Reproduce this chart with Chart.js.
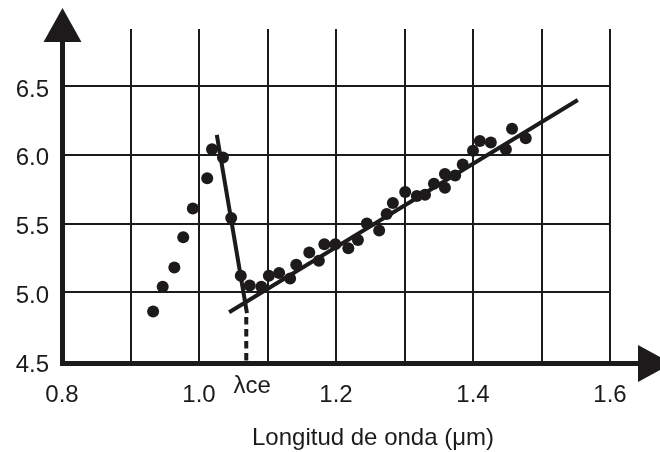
<!DOCTYPE html>
<html>
<head>
<meta charset="utf-8">
<script src="https://cdn.jsdelivr.net/npm/chart.js@4.4.0/dist/chart.umd.min.js"></script>
<style>
  html, body { margin: 0; padding: 0; background: #fff; }
  #wrap { width: 660px; height: 452px; }
</style>
</head>
<body>
<div id="wrap"><canvas id="chart"></canvas></div>
<script>
const wavelength = [0.933, 0.947, 0.964, 0.977, 0.991, 1.012, 1.019, 1.035, 1.047, 1.061,
  1.074, 1.091, 1.102, 1.117, 1.133, 1.142, 1.161, 1.175, 1.183, 1.199,
  1.218, 1.232, 1.245, 1.263, 1.274, 1.283, 1.301, 1.318, 1.330, 1.343,
  1.359, 1.359, 1.374, 1.385, 1.400, 1.410, 1.426, 1.448, 1.457, 1.477];
const signal = [4.86, 5.04, 5.18, 5.40, 5.61, 5.83, 6.04, 5.98, 5.54, 5.12,
  5.05, 5.04, 5.12, 5.14, 5.10, 5.20, 5.29, 5.23, 5.35, 5.35,
  5.32, 5.38, 5.50, 5.45, 5.57, 5.65, 5.73, 5.70, 5.71, 5.79,
  5.86, 5.76, 5.85, 5.93, 6.03, 6.10, 6.09, 6.04, 6.19, 6.12];

// the two hand-drawn straight lines and the cut-off marker
const steepX = [1.026, 1.070];
const steepY = [6.145, 4.848];
const fitX = [1.044, 1.553];
const fitY = [4.855, 6.399];
const cutoffX = [1.069, 1.069];
const cutoffY = [4.82, 4.5];

const xTicks = [0.8, 0.9, 1.0, 1.1, 1.2, 1.3, 1.4, 1.5, 1.6];
const xLabelTicks = [0.8, 1.0, 1.2, 1.4, 1.6];
const yTicks = [4.5, 5.0, 5.5, 6.0, 6.5];

const ink = '#1c1a1b';
const font = { family: '"Liberation Sans", Arial, sans-serif', size: 24 };

const pts = (xs, ys) => xs.map((v, i) => ({ x: v, y: ys[i] }));

// axes with arrow heads + free text labels
const arrowAxes = {
  id: 'arrowAxes',
  afterDraw(chart) {
    const { ctx, scales: { x, y } } = chart;
    const x0 = x.getPixelForValue(0.8) + 0.5;
    const y0 = y.getPixelForValue(4.5) + 2.5;
    ctx.save();
    ctx.strokeStyle = ink;
    ctx.fillStyle = ink;
    ctx.lineWidth = 5;
    ctx.beginPath();
    ctx.moveTo(x0, y0 + 2.5);
    ctx.lineTo(x0, 42);
    ctx.moveTo(x0 - 2.5, y0);
    ctx.lineTo(638, y0);
    ctx.stroke();

    ctx.beginPath();
    ctx.moveTo(x0 - 19, 42);
    ctx.lineTo(x0 + 19, 42);
    ctx.lineTo(x0, 8);
    ctx.closePath();
    ctx.fill();

    ctx.beginPath();
    ctx.moveTo(638, y0 - 18.5);
    ctx.lineTo(638, y0 + 18.5);
    ctx.lineTo(672, y0);
    ctx.closePath();
    ctx.fill();

    ctx.font = `${font.size}px ${font.family}`;
    ctx.textAlign = 'center';
    ctx.textBaseline = 'middle';
    ctx.fillText('λce', x.getPixelForValue(cutoffX[0]) + 6, 386);
    ctx.fillText('Longitud de onda (μm)', 373, 438);
    ctx.restore();
  }
};

new Chart(document.getElementById('chart'), {
  type: 'scatter',
  data: {
    datasets: [
      {
        data: pts(wavelength, signal),
        backgroundColor: ink,
        borderWidth: 0,
        pointRadius: 6,
        pointHoverRadius: 6
      },
      {
        type: 'line',
        data: pts(steepX, steepY),
        borderColor: ink,
        borderWidth: 4,
        pointRadius: 0,
        fill: false
      },
      {
        type: 'line',
        data: pts(fitX, fitY),
        borderColor: ink,
        borderWidth: 4,
        pointRadius: 0,
        fill: false
      },
      {
        type: 'line',
        data: pts(cutoffX, cutoffY),
        borderColor: ink,
        borderWidth: 4,
        borderDash: [7.5, 4.5],
        pointRadius: 0,
        fill: false
      }
    ]
  },
  options: {
    responsive: true,
    maintainAspectRatio: false,
    animation: false,
    events: [],
    layout: { padding: { left: 0, top: 29, right: 50, bottom: 0 } },
    plugins: {
      legend: { display: false },
      tooltip: { enabled: false }
    },
    scales: {
      x: {
        type: 'linear',
        min: 0.8,
        max: 1.6,
        afterFit: s => { s.height = 91; },
        afterBuildTicks: s => { s.ticks = xTicks.map(v => ({ value: v })); },
        border: { display: false },
        grid: {
          drawTicks: false,
          lineWidth: 2,
          color: c => (c.tick && c.tick.value === 0.8 ? 'rgba(0,0,0,0)' : ink)
        },
        ticks: {
          padding: 20,
          color: ink,
          font: font,
          maxRotation: 0,
          autoSkip: false,
          callback: v => (xLabelTicks.some(t => Math.abs(t - v) < 1e-6) ? v.toFixed(1) : '')
        }
      },
      y: {
        type: 'linear',
        min: 4.5,
        max: 6.915,
        afterFit: s => { s.width = 62; },
        afterBuildTicks: s => { s.ticks = yTicks.map(v => ({ value: v })); },
        border: { display: false },
        grid: {
          drawTicks: false,
          lineWidth: 2,
          color: c => (c.tick && c.tick.value === 4.5 ? 'rgba(0,0,0,0)' : ink)
        },
        ticks: {
          padding: 13,
          labelOffset: 4,
          color: ink,
          font: font,
          callback: v => v.toFixed(1)
        }
      }
    }
  },
  plugins: [arrowAxes]
});
</script>
</body>
</html>
